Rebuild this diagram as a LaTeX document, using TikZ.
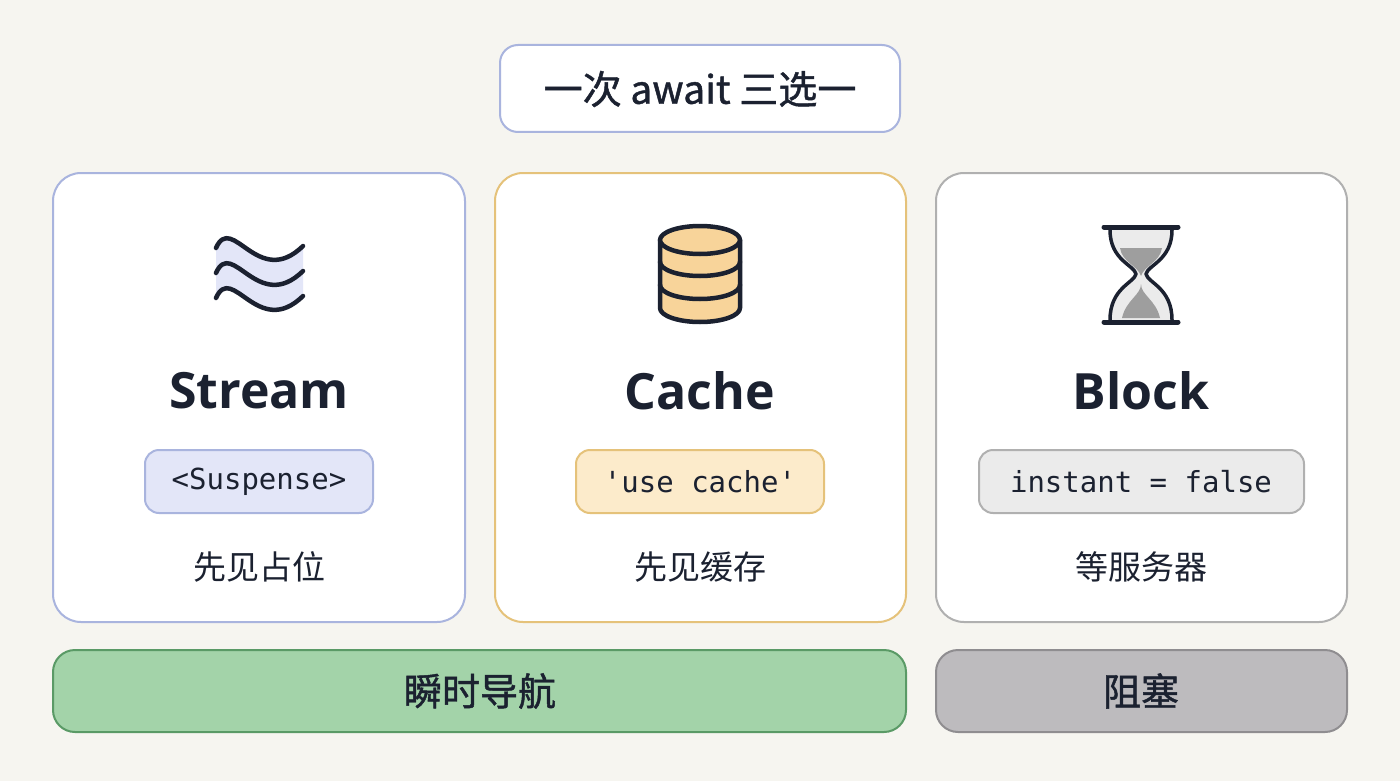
\documentclass[tikz,border=0pt]{standalone}
\usepackage{fontspec}
\setmainfont{Noto Sans CJK SC}
\newfontfamily\cjk{Noto Sans CJK SC}
\newfontfamily\cjkm[FakeBold=1.2]{Noto Sans CJK SC}
\newfontfamily\lat{Open Sans}
\setmonofont{DejaVu Sans Mono}
\definecolor{bg}{HTML}{F6F5F0}
\definecolor{ink}{HTML}{1B2130}
\definecolor{blueb}{HTML}{A9B4DE}
\definecolor{bluef}{HTML}{E3E6F8}
\definecolor{goldb}{HTML}{E5C27A}
\definecolor{goldf}{HTML}{FCEBCB}
\definecolor{goldi}{HTML}{F8D49A}
\definecolor{grayb}{HTML}{B0B0B0}
\definecolor{grayf}{HTML}{EBEBEB}
\definecolor{greenf}{HTML}{A3D3A9}
\definecolor{greenb}{HTML}{5A9A66}
\definecolor{darkf}{HTML}{BDBBBE}
\definecolor{darkb}{HTML}{8F8D90}
\begin{document}
\begin{tikzpicture}[x=1pt,y=-1pt,
  card/.style={draw=#1,line width=2pt,fill=white,rounded corners=28pt},
  pill/.style={draw=#1,line width=2pt,rounded corners=14pt},
  bar/.style={draw=#1,line width=2pt,rounded corners=22pt},
  head/.style={font=\lat\fontsize{50}{56}\selectfont\bfseries,text=ink},
  code/.style={font=\ttfamily\fontsize{29}{32}\selectfont,text=ink},
  cn/.style={font=\cjk\fontsize{33}{38}\selectfont,text=ink},
  ic/.style={draw=ink,line width=4.5pt,line cap=round,line join=round}]
\fill[bg] (0,0) rectangle (1400,781);
\useasboundingbox (0,0) rectangle (1400,781);
% title
\draw[draw=blueb,line width=2pt,fill=white,rounded corners=18pt] (500,45) rectangle (900,132);
\node[font=\cjkm\fontsize{39}{46}\selectfont,text=ink] (title) at (700,89) {一次 await 三选一};
% cards
\draw[card=blueb] (53,173) rectangle (465,622);
\draw[card=goldb] (495,173) rectangle (906,622);
\draw[card=grayb] (936,173) rectangle (1347,622);
% stream icon
\fill[bluef] (216,248) .. controls (232,212) and (258,290) .. (303,246) -- (303,296) .. controls (258,340) and (232,262) .. (216,298) -- cycle;
\foreach \yy in {248,273,298}{
  \draw[ic] (216,\yy) .. controls (232,\yy-36) and (258,\yy+42) .. (303,\yy-2);
}
% cache icon
\begin{scope}[ic]
\filldraw[fill=goldi] (660,240) -- (660,308) arc[start angle=180,end angle=0,x radius=40,y radius=14] -- (740,240);
\filldraw[fill=goldi] (700,240) ellipse[x radius=40,y radius=14];
\draw (660,262) arc[start angle=180,end angle=0,x radius=40,y radius=14];
\draw (660,285) arc[start angle=180,end angle=0,x radius=40,y radius=14];
\end{scope}
% hourglass
\fill[grayf] (1110,230) -- (1172,230) .. controls (1172,260) and (1148,265) .. (1146,274) .. controls (1148,283) and (1172,288) .. (1172,320) -- (1110,320) .. controls (1110,288) and (1134,283) .. (1136,274) .. controls (1134,265) and (1110,260) .. (1110,230) -- cycle;
\fill[grayb!90!black] (1120,248) -- (1162,248) .. controls (1160,262) and (1144,266) .. (1141,276) .. controls (1138,266) and (1122,262) .. (1120,248) -- cycle;
\fill[grayb!90!black] (1141,284) .. controls (1141,295) and (1156,300) .. (1160,318) -- (1122,318) .. controls (1126,300) and (1141,295) .. (1141,284) -- cycle;
\draw[ic,line width=3.5pt] (1110,230) .. controls (1110,260) and (1134,265) .. (1136,274) .. controls (1134,283) and (1110,288) .. (1110,320);
\draw[ic,line width=3.5pt] (1172,230) .. controls (1172,260) and (1148,265) .. (1146,274) .. controls (1148,283) and (1172,288) .. (1172,320);
\draw[ic,line width=5pt] (1104,227) -- (1178,227);
\draw[ic,line width=5pt] (1104,322) -- (1178,322);
% heads
\node[head] (h1) at (259,391) {Stream};
\node[head] (h2) at (700,391) {Cache};
\node[head] (h3) at (1141,391) {Block};
% pills
\draw[pill=blueb,fill=bluef] (145,450) rectangle (373,513);
\node[code] (p1) at (259,482) {<Suspense>};
\draw[pill=goldb,fill=goldf] (576,450) rectangle (824,513);
\node[code] (p2) at (700,482) {'use cache'};
\draw[pill=grayb,fill=grayf] (979,450) rectangle (1304,513);
\node[code] (p3) at (1141,482) {instant = false};
% cn
\node[cn] (c1) at (259,567) {先见占位};
\node[cn] (c2) at (700,567) {先见缓存};
\node[cn] (c3) at (1141,567) {等服务器};
% bars
\draw[bar=greenb,fill=greenf] (53,650) rectangle (906,732);
\node[font=\cjkm\fontsize{38}{44}\selectfont,text=ink] (b1) at (480,691) {瞬时导航};
\draw[bar=darkb,fill=darkf] (936,650) rectangle (1347,732);
\node[font=\cjkm\fontsize{38}{44}\selectfont,text=ink] (b2) at (1141,691) {阻塞};
\end{tikzpicture}
\end{document}
